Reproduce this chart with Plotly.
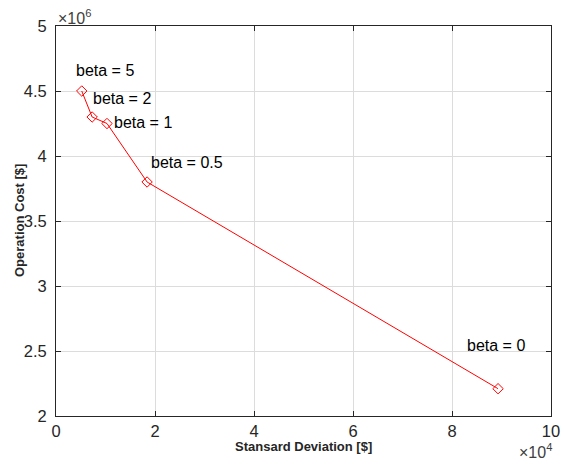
import plotly.graph_objects as go

# Pareto front: risk (std. deviation) vs. expected operation cost per beta
beta_labels = ["beta = 5", "beta = 2", "beta = 1", "beta = 0.5", "beta = 0"]
std_dev = [5200, 7300, 10300, 18400, 89300]
op_cost = [4.50e6, 4.30e6, 4.25e6, 3.80e6, 2.21e6]

# label anchor points (left edge, vertical centre) in data units
label_x = [3700, 7000, 11400, 18700, 82700]
label_y = [4.66e6, 4.44e6, 4.26e6, 3.95e6, 2.54e6]

x_ticks = [0, 20000, 40000, 60000, 80000, 100000]
x_tick_text = ["0", "2", "4", "6", "8", "10"]
y_ticks = [2.0e6, 2.5e6, 3.0e6, 3.5e6, 4.0e6, 4.5e6, 5.0e6]
y_tick_text = ["2", "2.5", "3", "3.5", "4", "4.5", "5"]

font_family = "Liberation Sans, Arial, sans-serif"
text_grey = "#262626"

fig = go.Figure()
fig.add_trace(go.Scatter(
    x=std_dev, y=op_cost, mode="lines+markers",
    line=dict(color="red", width=1),
    marker=dict(symbol="diamond-open", size=8, color="red", line=dict(width=1, color="red")),
    showlegend=False,
))

for lbl, lx, ly in zip(beta_labels, label_x, label_y):
    fig.add_annotation(x=lx, y=ly, text=lbl, showarrow=False,
                       xanchor="left", yanchor="middle",
                       font=dict(family=font_family, size=16, color="black"))

# axis exponent labels
fig.add_annotation(xref="paper", yref="paper", x=0.0, y=1.0, text="×10<sup>6</sup>",
                   showarrow=False, xanchor="left", yanchor="bottom", yshift=-3,
                   font=dict(family=font_family, size=16, color="#404040"))
fig.add_annotation(xref="paper", yref="paper", x=1.0, y=0.0, text="×10<sup>4</sup>",
                   showarrow=False, xanchor="right", yanchor="bottom", yshift=-46, xshift=2,
                   borderpad=0,
                   font=dict(family=font_family, size=16, color="#404040"))

# axis titles placed as paper annotations
fig.add_annotation(xref="paper", yref="paper", x=0.5, y=0.0, text="<b>Stansard Deviation [$]</b>",
                   showarrow=False, xanchor="center", yanchor="middle", yshift=-30,
                   font=dict(family=font_family, size=13, color=text_grey))
fig.add_annotation(xref="paper", yref="paper", x=0.0, y=0.5, text="<b>Operation Cost [$]</b>",
                   showarrow=False, xanchor="center", yanchor="middle", xshift=-37,
                   textangle=-90,
                   font=dict(family=font_family, size=13, color=text_grey))

axis_common = dict(
    showline=True, linecolor=text_grey, linewidth=1, mirror="ticks",
    ticks="inside", ticklen=5, tickcolor=text_grey,
    showgrid=True, gridcolor="#dcdcdc", gridwidth=1, zeroline=False,
    tickfont=dict(family=font_family, size=16.5, color=text_grey),
    automargin=False,
)

fig.update_xaxes(range=[0, 100000], tickvals=x_ticks, ticktext=x_tick_text, **axis_common)
fig.update_yaxes(range=[2.0e6, 5.0e6], tickvals=y_ticks, ticktext=y_tick_text,
                 ticklabelstandoff=5, **axis_common)

fig.update_layout(
    width=565, height=463,
    margin=dict(l=56, r=14, t=26, b=47),
    plot_bgcolor="white", paper_bgcolor="white",
)

fig.write_html("out.html")
